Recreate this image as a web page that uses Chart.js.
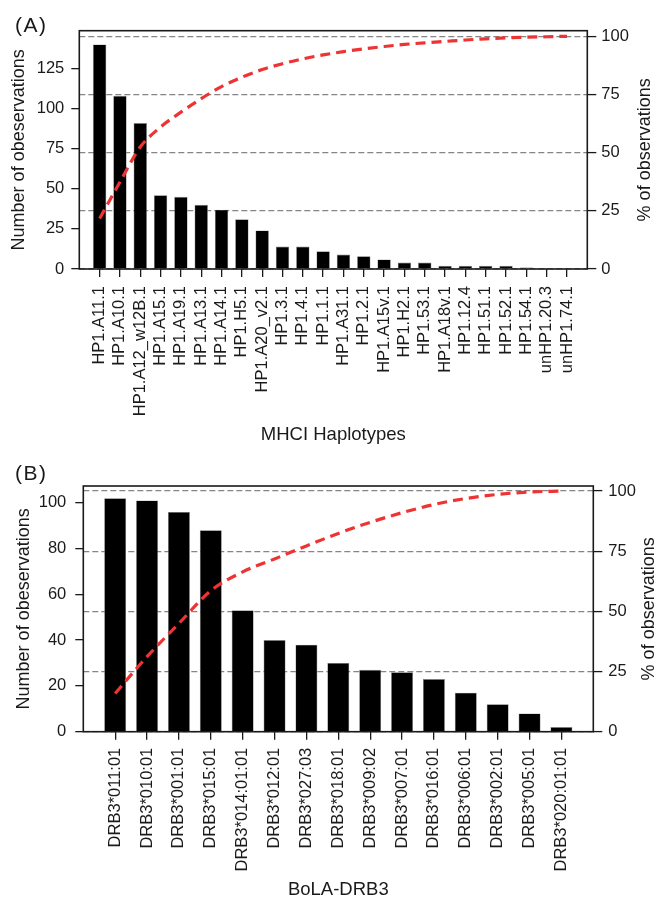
<!DOCTYPE html>
<html>
<head>
<meta charset="utf-8">
<script src="https://cdn.jsdelivr.net/npm/chart.js@4.4.0/dist/chart.umd.min.js"></script>
<style>
  html, body { margin: 0; padding: 0; background: #fff; overflow: hidden; }
  .panel { position: absolute; left: 0; width: 658px; }
  #panelA { top: 0; height: 450px; }
  #panelB { top: 450px; height: 452px; }
</style>
</head>
<body>
<div class="panel" id="panelA"><canvas id="chartA"></canvas></div>
<div class="panel" id="panelB"><canvas id="chartB"></canvas></div>
<script>
// (A) MHCI haplotypes
const haplotypeLabels = ['HP1.A11.1', 'HP1.A10.1', 'HP1.A12_w12B.1', 'HP1.A15.1', 'HP1.A19.1', 'HP1.A13.1',
  'HP1.A14.1', 'HP1.H5.1', 'HP1.A20_v2.1', 'HP1.3.1', 'HP1.4.1', 'HP1.1.1', 'HP1.A31.1', 'HP1.2.1',
  'HP1.A15v.1', 'HP1.H2.1', 'HP1.53.1', 'HP1.A18v.1', 'HP1.12.4', 'HP1.51.1', 'HP1.52.1', 'HP1.54.1',
  'unHP1.20.3', 'unHP1.74.1'];
const haplotypeCounts = [140, 108, 91, 46, 45, 40, 37, 31, 24, 14, 14, 11, 9, 8, 6, 4, 4, 2, 2, 2, 2, 1, 0, 0];
const haplotypeCumPct = [21.7, 37.4, 52.4, 61.0, 67.4, 73.2, 78.4, 82.4, 85.7, 88.2, 90.3, 92.0,
  93.4, 94.6, 95.6, 96.5, 97.2, 97.8, 98.4, 98.9, 99.3, 99.6, 99.8, 100];

// (B) BoLA-DRB3 alleles
const drb3Labels = ['DRB3*011:01', 'DRB3*010:01', 'DRB3*001:01', 'DRB3*015:01', 'DRB3*014:01:01',
  'DRB3*012:01', 'DRB3*027:03', 'DRB3*018:01', 'DRB3*009:02', 'DRB3*007:01', 'DRB3*016:01',
  'DRB3*006:01', 'DRB3*002:01', 'DRB3*005:01', 'DRB3*020:01:01'];
const drb3Counts = [102, 101, 96, 88, 53, 40, 38, 30, 27, 26, 23, 17, 12, 8, 2];
const drb3CumPct = [15.9, 31.2, 45.0, 58.6, 66.4, 71.8, 77.2, 82.4, 87.0, 91.0, 94.4, 96.9, 98.6, 99.6, 100];

const pctTicks = [0, 25, 50, 75, 100];

const ink = '#1a1a1a';
const fontFamily = "'Liberation Sans', Arial, Helvetica, sans-serif";
Chart.defaults.font.family = fontFamily;
Chart.defaults.color = ink;

// box around the plot, panel letter, right-hand axis title (reads bottom to top)
const framePlugin = {
  id: 'frame',
  afterDraw(chart, args, opts) {
    const { ctx, chartArea: a } = chart;
    ctx.save();
    ctx.strokeStyle = ink;
    ctx.lineWidth = 1.6;
    ctx.strokeRect(a.left, a.top, a.right - a.left, a.bottom - a.top);

    ctx.fillStyle = ink;
    ctx.font = '21px ' + fontFamily;
    ctx.letterSpacing = '1.5px';
    ctx.textBaseline = 'alphabetic';
    ctx.fillText(opts.panel, opts.panelX, opts.panelY);
    ctx.letterSpacing = '0px';

    ctx.translate(opts.rightTitleX, (a.top + a.bottom) / 2);
    ctx.rotate(-Math.PI / 2);
    ctx.font = '18px ' + fontFamily;
    ctx.textAlign = 'center';
    ctx.textBaseline = 'middle';
    ctx.fillText('% of observations', 0, 0);
    ctx.restore();
  }
};

function paretoChart(canvasId, labels, counts, cumPct, g) {
  return new Chart(document.getElementById(canvasId), {
    type: 'bar',
    data: {
      datasets: [
        {
          type: 'line',
          data: cumPct.map((v, i) => ({ x: i, y: v })),
          yAxisID: 'y1',
          borderColor: '#ee3333',
          borderWidth: 3.2,
          borderDash: [10, 6],
          pointRadius: 0,
          fill: false,
          cubicInterpolationMode: 'monotone'
        },
        {
          type: 'bar',
          data: counts.map((v, i) => ({ x: i, y: v })),
          yAxisID: 'y',
          backgroundColor: '#000',
          borderColor: '#888',
          borderWidth: 0.6,
          categoryPercentage: 1,
          barPercentage: g.barPct
        }
      ]
    },
    options: {
      responsive: true,
      maintainAspectRatio: false,
      animation: false,
      layout: { padding: { top: g.top, left: 0, right: 0, bottom: 0 } },
      plugins: {
        legend: { display: false },
        tooltip: { enabled: false },
        frame: { panel: g.panel, panelX: 15, panelY: g.panelY, rightTitleX: g.rightTitleX }
      },
      scales: {
        x: {
          type: 'linear',
          offset: false,
          min: -1,
          max: labels.length,
          afterBuildTicks: s => { s.ticks = labels.map((_, i) => ({ value: i })); },
          afterFit: s => {
            s.height = g.xHeight;
            s.paddingLeft = 0;
            s.paddingRight = 0;
          },
          ticks: {
            autoSkip: false,
            minRotation: 90,
            maxRotation: 90,
            padding: g.xPad,
            font: { size: 16.5 },
            callback: v => labels[v]
          },
          grid: { offset: false, drawOnChartArea: false, color: ink, lineWidth: 1.3, tickLength: 8 },
          border: { display: false },
          title: {
            display: true,
            text: g.xTitle,
            font: { size: 18.5 },
            padding: { top: 0, bottom: g.xTitlePad }
          }
        },
        y: {
          position: 'left',
          min: 0,
          max: g.yMax,
          afterFit: s => { s.width = g.yWidth; s.paddingTop = 0; s.paddingBottom = 0; },
          ticks: { stepSize: g.yStep, includeBounds: false, padding: g.yPad, font: { size: 16.5 } },
          grid: { drawOnChartArea: false, color: ink, lineWidth: 1.3, tickLength: 8 },
          border: { display: false },
          title: {
            display: true,
            text: 'Number of obeservations',
            font: { size: 18 },
            padding: { top: g.yTitlePad, bottom: 0 }
          }
        },
        y1: {
          position: 'right',
          min: 0,
          max: g.pctMax,
          afterFit: s => { s.width = g.y1Width; s.paddingTop = 0; s.paddingBottom = 0; },
          afterBuildTicks: s => { s.ticks = pctTicks.map(v => ({ value: v })); },
          ticks: { padding: g.y1Pad, font: { size: 16.5 } },
          grid: {
            drawOnChartArea: true,
            color: '#858585',
            lineWidth: 1.2,
            tickColor: ink,
            tickWidth: 1.3,
            tickLength: 9,
            tickBorderDash: []
          },
          border: { display: false, dash: [6, 3] }
        }
      }
    },
    plugins: [framePlugin]
  });
}

paretoChart('chartA', haplotypeLabels, haplotypeCounts, haplotypeCumPct, {
  panel: '(A)', panelY: 32, rightTitleX: 645,
  top: 30.7, yWidth: 79.3, y1Width: 70.7, xHeight: 181,
  yMax: 148.6, yStep: 25, pctMax: 102.4,
  barPct: 0.66, xPad: 9, yPad: 7, y1Pad: 5, yTitlePad: 8.6, xTitlePad: 4,
  xTitle: 'MHCI Haplotypes'
});

paretoChart('chartB', drb3Labels, drb3Counts, drb3CumPct, {
  panel: '(B)', panelY: 29.5, rightTitleX: 649,
  top: 36, yWidth: 83.3, y1Width: 64.7, xHeight: 170.3,
  yMax: 107.3, yStep: 20, pctMax: 102.1,
  barPct: 0.69, xPad: 8, yPad: 9, y1Pad: 6, yTitlePad: 13, xTitlePad: 1,
  xTitle: 'BoLA-DRB3'
});
</script>
</body>
</html>
